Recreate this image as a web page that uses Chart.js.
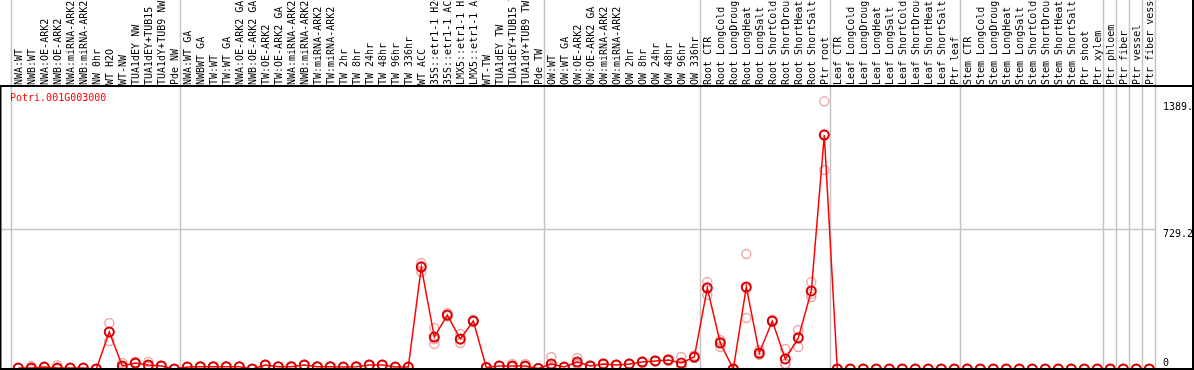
<!DOCTYPE html>
<html>
<head>
<meta charset="utf-8">
<script src="https://cdn.jsdelivr.net/npm/chart.js@4"></script>
<style>
html,body{margin:0;padding:0;background:#fff;}
#c{display:block;}
</style>
</head>
<body>
<canvas id="c" width="1194" height="370"></canvas>
<script>
const geneId = "Potri.001G003000";
const categories = [
 "NWA:WT","NWB:WT","NWA:OE-ARK2","NWB:OE-ARK2","NWA:miRNA-ARK2","NWB:miRNA-ARK2","NW 0hr","WT H2O","WT-NW","TUA1dEY NW",
 "TUA1dEY+TUB15 NW","TUA1dY+TUB9 NW","Pde NW","NWA:WT GA","NWBWT GA","TW:WT","TW:WT GA","NWA:OE-ARK2 GA","NWB:OE-ARK2 GA","TW:OE-ARK2",
 "TW:OE-ARK2 GA","NWA:miRNA-ARK2","NWB:miRNA-ARK2","TW:miRNA-ARK2","TW:miRNA-ARK2","TW 2hr","TW 8hr","TW 24hr","TW 48hr","TW 96hr",
 "TW 336hr","WT ACC","35S::etr1-1 H2O","35S::etr1-1 ACC","LMX5::etr1-1 H2O","LMX5::etr1-1 ACC","WT-TW","TUA1dEY TW","TUA1dEY+TUB15 TW","TUA1dY+TUB9 TW",
 "Pde TW","OW:WT","OW:WT GA","OW:OE-ARK2","OW:OE-ARK2 GA","OW:miRNA-ARK2","OW:miRNA-ARK2","OW 2hr","OW 8hr","OW 24hr",
 "OW 48hr","OW 96hr","OW 336hr","Root CTR","Root LongCold","Root LongDrought","Root LongHeat","Root LongSalt","Root ShortCold","Root ShortDrought",
 "Root ShortHeat","Root ShortSalt","Ptr root","Leaf CTR","Leaf LongCold","Leaf LongDrought","Leaf LongHeat","Leaf LongSalt","Leaf ShortCold","Leaf ShortDrought",
 "Leaf ShortHeat","Leaf ShortSalt","Ptr leaf","Stem CTR","Stem LongCold","Stem LongDrought","Stem LongHeat","Stem LongSalt","Stem ShortCold","Stem ShortDrought",
 "Stem ShortHeat","Stem ShortSalt","Ptr shoot","Ptr xylem","Ptr phloem","Ptr fiber","Ptr vessel","Ptr fiber vessel"
];
const meanValues = [
 5,5,10,5,5,5,0,192,16,31,
 21,16,0,10,12,12,12,12,0,21,
 12,12,21,12,12,10,12,21,21,10,
 10,529,166,280,156,249,8,16,16,16,
 3,26,10,36,16,26,21,26,36,42,
 47,31,62,420,135,0,426,83,249,52,
 161,405,1214,0,0,0,0,0,0,0,
 0,0,0,0,0,0,0,0,0,0,
 0,0,0,0,0,0,0,0
];
const rep1 = [
 5,15,12,20,5,5,0,239,31,36,
 36,18,0,12,14,12,14,12,0,24,
 12,14,24,12,12,10,14,24,24,10,
 12,550,213,290,182,255,10,18,26,26,
 4,62,12,57,18,30,24,28,40,46,
 52,62,70,451,150,0,597,99,255,104,
 202,451,1389,0,0,0,0,0,0,0,
 0,0,0,0,0,0,0,0,0,0,
 0,0,0,0,0,0,0,0
];
const rep2 = [
 5,0,8,0,5,5,0,145,10,28,
 14,15,0,9,11,12,10,12,0,19,
 12,11,19,12,12,10,11,19,19,10,
 9,503,130,275,135,245,7,15,12,12,
 2,10,9,26,15,24,19,25,34,40,
 45,16,58,384,114,0,265,75,245,26,
 114,374,1033,0,0,0,0,0,0,0,
 0,0,0,0,0,0,0,0,0,0,
 0,0,0,0,0,0,0,0
];
const rep3 = [
 5,0,10,0,5,5,0,192,7,29,
 13,15,0,9,11,12,12,12,0,20,
 12,11,20,12,12,10,11,20,20,10,
 9,534,155,275,151,247,7,15,10,10,
 3,6,9,25,15,24,20,25,34,40,
 44,15,58,425,141,0,416,75,247,26,
 167,390,1220,0,0,0,0,0,0,0,
 0,0,0,0,0,0,0,0,0,0,
 0,0,0,0,0,0,0,0
];
const yTickValues = [1389, 729.2, 0];
const yTickLabels = ["1389.", "729.2", "0"];
const yAxisMax = 1458.4;
const separatorsAfter = [-1, 12, 40, 52, 62, 72, 83, 84, 85, 86, 87];
const gridValues = [729.2];

const toXY = arr => arr.map((v, i) => ({x: i, y: v}));

const X0 = 18.3, STEP = 13, W = 1194, H = 370;
const xMin = -X0 / STEP;
const xMax = xMin + 1192 / STEP;

const efpPlugin = {
  id: 'efp',
  beforeDatasetsDraw(chart) {
    const ctx = chart.ctx, xs = chart.scales.x, ys = chart.scales.y;
    ctx.save();
    ctx.strokeStyle = '#c4c4c4';
    ctx.lineWidth = 1.5;
    separatorsAfter.forEach(k => {
      const px = Math.round(xs.getPixelForValue(k + 0.5)) - 0.5;
      ctx.beginPath(); ctx.moveTo(px, 0); ctx.lineTo(px, H); ctx.stroke();
    });
    const lastSep = Math.round(xs.getPixelForValue(87.5));
    gridValues.forEach(v => {
      const py = Math.round(ys.getPixelForValue(v)) + 0.5;
      ctx.beginPath(); ctx.moveTo(0, py); ctx.lineTo(lastSep, py); ctx.stroke();
    });
    ctx.restore();
  },
  afterDatasetsDraw(chart) {
    const ctx = chart.ctx, xs = chart.scales.x, ys = chart.scales.y;
    ctx.save();
    ctx.fillStyle = '#fff';
    ctx.fillRect(0, 0, W, 85);
    ctx.strokeStyle = '#c4c4c4';
    ctx.lineWidth = 1.5;
    separatorsAfter.forEach(k => {
      const px = Math.round(xs.getPixelForValue(k + 0.5)) - 0.5;
      ctx.beginPath(); ctx.moveTo(px, 0); ctx.lineTo(px, 86); ctx.stroke();
    });
    ctx.beginPath(); ctx.rect(0, 0, W, 85); ctx.clip();
    ctx.fillStyle = '#000';
    ctx.font = '10px "DejaVu Sans Mono"';
    ctx.textAlign = 'left';
    ctx.textBaseline = 'alphabetic';
    categories.forEach((lab, i) => {
      const px = xs.getPixelForValue(i);
      ctx.save();
      ctx.translate(px + 3.6, 85);
      ctx.rotate(-Math.PI / 2);
      ctx.fillText(lab, 0, 0);
      ctx.restore();
    });
    ctx.restore();
    ctx.save();
    ctx.fillStyle = '#000';
    ctx.fillRect(0, 85, W, 2);
    ctx.fillRect(0, 368, W, 2);
    ctx.fillRect(1192, 0, 2, H);
    ctx.fillRect(0, 87, 1.5, H);
    ctx.fillStyle = '#ff0000';
    ctx.font = '10px "DejaVu Sans Mono"';
    ctx.textAlign = 'left';
    ctx.textBaseline = 'alphabetic';
    ctx.fillText(geneId, 10, 100.5);
    ctx.fillStyle = '#000';
    yTickValues.forEach((v, i) => {
      const py = ys.getPixelForValue(v);
      if (v === 0) ctx.fillText(yTickLabels[i], 1163, py - 3);
      else ctx.fillText(yTickLabels[i], 1163, py + 8.5);
    });
    ctx.restore();
  }
};

const repStyle = {
  showLine: false,
  pointRadius: 4.5,
  pointBorderWidth: 1.5,
  pointBorderColor: 'rgba(232,120,120,0.65)',
  pointBackgroundColor: 'rgba(0,0,0,0)',
  order: 2,
  clip: false
};

new Chart(document.getElementById('c'), {
  type: 'line',
  data: {
    datasets: [
      {label: 'mean', data: toXY(meanValues), borderColor: '#ff0000', borderWidth: 1.5,
       pointRadius: 4.5, pointBorderWidth: 2, pointBorderColor: '#d80000',
       pointBackgroundColor: 'rgba(0,0,0,0)', tension: 0, order: 0, clip: false},
      Object.assign({label: 'rep1', data: toXY(rep1)}, repStyle),
      Object.assign({label: 'rep2', data: toXY(rep2)}, repStyle),
      Object.assign({label: 'rep3', data: toXY(rep3)}, repStyle)
    ]
  },
  options: {
    responsive: false,
    animation: false,
    devicePixelRatio: 1,
    layout: {autoPadding: false, padding: {top: 88, bottom: 1, left: 0, right: 2}},
    plugins: {legend: {display: false}, tooltip: {enabled: false}},
    scales: {
      x: {type: 'linear', min: xMin, max: xMax, display: false},
      y: {type: 'linear', min: 0, max: yAxisMax, display: false}
    }
  },
  plugins: [efpPlugin]
});
</script>
</body>
</html>
